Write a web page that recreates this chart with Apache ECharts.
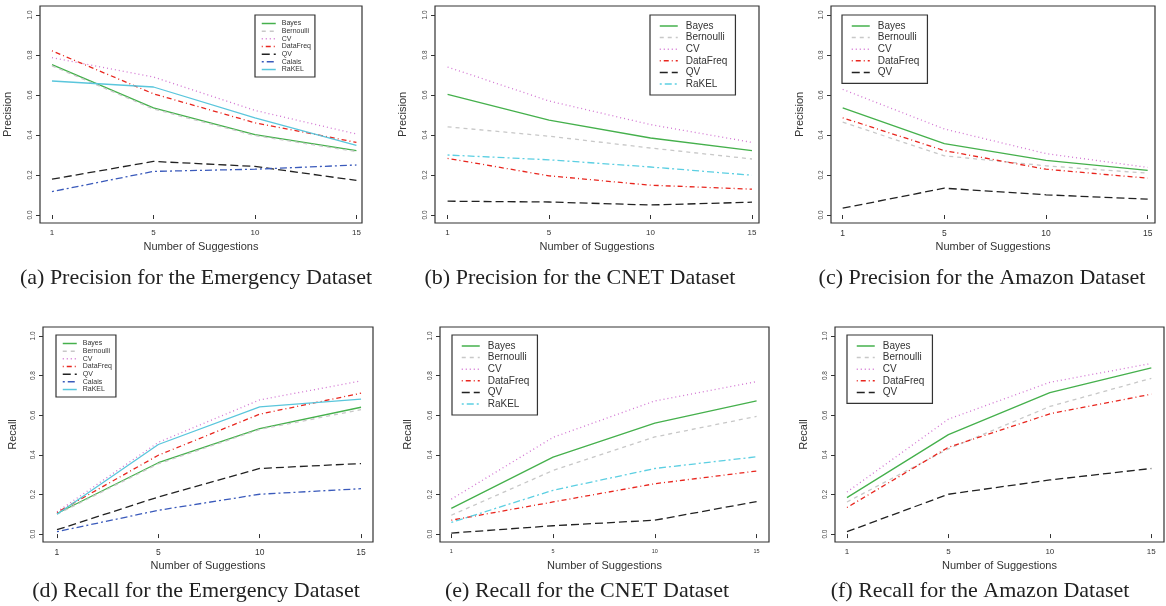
<!DOCTYPE html>
<html>
<head>
<meta charset="utf-8">
<script src="https://cdn.jsdelivr.net/npm/echarts@6.0.0/dist/echarts.min.js"></script>
<style>
  html, body { margin: 0; padding: 0; background: #fff; }
  #chart { width: 1166px; height: 606px; }
</style>
</head>
<body>
<div id="chart"></div>
<script>
// x is evenly spaced (1..4), labelled with the number of suggestions
const suggestions = [1, 5, 10, 15];
const yTicks = [0, 0.2, 0.4, 0.6, 0.8, 1.0];

// (a) Precision, Emergency
const aBayes = [0.752, 0.536, 0.402, 0.322];
const aBernoulli = [0.746, 0.530, 0.397, 0.317];
const aCV = [0.787, 0.690, 0.523, 0.405];
const aDataFreq = [0.821, 0.606, 0.461, 0.363];
const aQV = [0.179, 0.268, 0.243, 0.173];
const aCalais = [0.117, 0.218, 0.229, 0.250];
const aRaKEL = [0.670, 0.640, 0.486, 0.348];

// (b) Precision, CNET
const bBayes = [0.603, 0.474, 0.385, 0.322];
const bBernoulli = [0.441, 0.394, 0.335, 0.280];
const bCV = [0.740, 0.570, 0.452, 0.363];
const bDataFreq = [0.283, 0.196, 0.149, 0.129];
const bQV = [0.069, 0.065, 0.050, 0.064];
const bRaKEL = [0.300, 0.276, 0.240, 0.199];

// (c) Precision, Amazon
const cBayes = [0.536, 0.357, 0.273, 0.223];
const cBernoulli = [0.464, 0.296, 0.246, 0.209];
const cCV = [0.628, 0.430, 0.307, 0.238];
const cDataFreq = [0.486, 0.322, 0.229, 0.184];
const cQV = [0.034, 0.134, 0.101, 0.079];

// (d) Recall, Emergency
const dBayes = [0.104, 0.360, 0.532, 0.640];
const dBernoulli = [0.100, 0.355, 0.528, 0.628];
const dCV = [0.112, 0.463, 0.677, 0.773];
const dDataFreq = [0.109, 0.398, 0.605, 0.711];
const dQV = [0.022, 0.187, 0.331, 0.356];
const dCalais = [0.012, 0.120, 0.201, 0.229];
const dRaKEL = [0.100, 0.452, 0.642, 0.681];

// (e) Recall, CNET
const eBayes = [0.130, 0.388, 0.560, 0.672];
const eBernoulli = [0.095, 0.321, 0.490, 0.594];
const eCV = [0.176, 0.488, 0.672, 0.769];
const eDataFreq = [0.070, 0.162, 0.254, 0.318];
const eQV = [0.005, 0.042, 0.070, 0.164];
const eRaKEL = [0.059, 0.221, 0.331, 0.390];

// (f) Recall, Amazon
const fBayes = [0.184, 0.502, 0.714, 0.839];
const fBernoulli = [0.162, 0.430, 0.644, 0.786];
const fCV = [0.212, 0.580, 0.766, 0.861];
const fDataFreq = [0.134, 0.438, 0.607, 0.706];
const fQV = [0.012, 0.201, 0.273, 0.331];

const captions = [
  '(a) Precision for the Emergency Dataset',
  '(b) Precision for the CNET Dataset',
  '(c) Precision for the Amazon Dataset',
  '(d) Recall for the Emergency Dataset',
  '(e) Recall for the CNET Dataset',
  '(f) Recall for the Amazon Dataset'
];

const styles = {
  Bayes: { color: '#45b04c', type: 'solid' },
  Bernoulli: { color: '#c8c8c8', type: [4, 4] },
  CV: { color: '#d274d2', type: [1, 3] },
  DataFreq: { color: '#e8261e', type: [1, 3, 5, 3] },
  QV: { color: '#222222', type: [8, 4] },
  Calais: { color: '#3a5abb', type: [2, 3, 7, 3] },
  RaKEL: { color: '#5ac6dc', type: 'solid' },
  RaKELdash: { color: '#5ccfe2', type: [2, 3, 7, 3] }
};

const SANS = 'Liberation Sans';
const SERIF = 'Liberation Serif';

const panels = [
  { box: [40, 6, 322, 217], xr: [0.882, 4.055], y: 'Precision', xFont: 8, yGap: 27,
    lines: [['Bayes', aBayes], ['Bernoulli', aBernoulli], ['CV', aCV], ['DataFreq', aDataFreq], ['QV', aQV], ['Calais', aCalais], ['RaKEL', aRaKEL]],
    leg: { left: 255, top: 15, small: true }, cap: [196, 278] },
  { box: [435, 6, 324, 217], xr: [0.876, 4.069], y: 'Precision', xFont: 8, yGap: 27,
    lines: [['Bayes', bBayes], ['Bernoulli', bBernoulli], ['CV', bCV], ['DataFreq', bDataFreq], ['QV', bQV], ['RaKEL', bRaKEL, 'RaKELdash']],
    leg: { left: 650, top: 15, small: false }, cap: [580, 278] },
  { box: [831, 6, 324, 217], xr: [0.885, 4.072], y: 'Precision', xFont: 8.5, yGap: 26,
    lines: [['Bayes', cBayes], ['Bernoulli', cBernoulli], ['CV', cCV], ['DataFreq', cDataFreq], ['QV', cQV]],
    leg: { left: 842, top: 15, small: false }, cap: [982, 278] },
  { box: [43, 327, 330, 215], xr: [0.862, 4.118], y: 'Recall', xFont: 8.5, yGap: 25,
    lines: [['Bayes', dBayes], ['Bernoulli', dBernoulli], ['CV', dCV], ['DataFreq', dDataFreq], ['QV', dQV], ['Calais', dCalais], ['RaKEL', dRaKEL]],
    leg: { left: 56, top: 335, small: true }, cap: [196, 591] },
  { box: [440, 327, 329, 215], xr: [0.889, 4.122], y: 'Recall', xFont: 5.5, yGap: 27,
    lines: [['Bayes', eBayes], ['Bernoulli', eBernoulli], ['CV', eCV], ['DataFreq', eDataFreq], ['QV', eQV], ['RaKEL', eRaKEL, 'RaKELdash']],
    leg: { left: 452, top: 335, small: false }, cap: [587, 591] },
  { box: [835, 327, 329, 215], xr: [0.882, 4.125], y: 'Recall', xFont: 8, yGap: 26,
    lines: [['Bayes', fBayes], ['Bernoulli', fBernoulli], ['CV', fCV], ['DataFreq', fDataFreq], ['QV', fQV]],
    leg: { left: 847, top: 335, small: false }, cap: [980, 591] }
];

const xIdx = suggestions.map((s, i) => i + 1);

const grid = [], xAxis = [], yAxis = [], series = [], legend = [], graphic = [];

panels.forEach((p, i) => {
  grid.push({
    left: p.box[0], top: p.box[1], width: p.box[2], height: p.box[3],
    show: true, borderColor: '#333', borderWidth: 1.2, backgroundColor: 'transparent'
  });
  xAxis.push({
    gridIndex: i, type: 'value', min: p.xr[0], max: p.xr[1],
    axisLine: { show: false }, splitLine: { show: false },
    axisTick: { show: true, customValues: xIdx, length: 4, lineStyle: { color: '#333' } },
    axisLabel: {
      customValues: xIdx, margin: 6, fontSize: p.xFont, color: '#333', fontFamily: SANS,
      formatter: v => String(suggestions[Math.round(v) - 1])
    },
    name: 'Number of Suggestions', nameLocation: 'middle', nameGap: 18,
    nameTextStyle: { fontSize: 11, color: '#333', fontFamily: SANS }
  });
  yAxis.push({
    gridIndex: i, type: 'value', min: -0.04, max: 1.045,
    axisLine: { show: false }, splitLine: { show: false },
    axisTick: { show: true, customValues: yTicks, length: 4, lineStyle: { color: '#333' } },
    axisLabel: {
      customValues: yTicks, rotate: 90, margin: 6, fontSize: 6.5, color: '#444', fontFamily: SANS,
      formatter: v => v.toFixed(1)
    },
    name: p.y, nameLocation: 'middle', nameGap: p.yGap,
    nameTextStyle: { fontSize: 11, color: '#333', fontFamily: SANS }
  });

  const legData = [];
  p.lines.forEach(([name, vals, styleKey]) => {
    const st = styles[styleKey || name];
    series.push({
      name, type: 'line', xAxisIndex: i, yAxisIndex: i,
      data: vals.map((v, k) => [xIdx[k], v]),
      symbol: 'none', silent: true, animation: false,
      lineStyle: { color: st.color, type: st.type, width: 1.3 },
      itemStyle: { color: st.color }
    });
    // per-panel legend styling, since names repeat across panels; hide the marker dot
    legData.push({
      name,
      lineStyle: { color: st.color, type: st.type, width: 1.5 },
      itemStyle: { color: 'rgba(0,0,0,0)', borderWidth: 0, opacity: 0 }
    });
  });

  const small = p.leg.small;
  legend.push({
    orient: 'vertical', left: p.leg.left, top: p.leg.top,
    data: legData, selectedMode: false,
    itemWidth: small ? 14 : 18, itemHeight: small ? 8 : 10, itemGap: small ? 0.67 : 1.6,
    padding: small ? [5, 4, 4, 6] : [6, 8, 6, 9],
    borderColor: '#333', borderWidth: 1.2, borderRadius: 0,
    textStyle: { fontSize: small ? 7 : 10, color: '#333', fontFamily: SANS, padding: [0, 0, 0, small ? 1 : 3] }
  });

  graphic.push({
    type: 'text', x: p.cap[0], y: p.cap[1],
    style: {
      text: captions[i], font: '22px "' + SERIF + '"', fill: '#222',
      align: 'center', verticalAlign: 'middle'
    }
  });
});

const chart = echarts.init(document.getElementById('chart'));
chart.setOption({
  backgroundColor: '#fff',
  animation: false,
  grid, xAxis, yAxis, series, legend, graphic
});
</script>
</body>
</html>
